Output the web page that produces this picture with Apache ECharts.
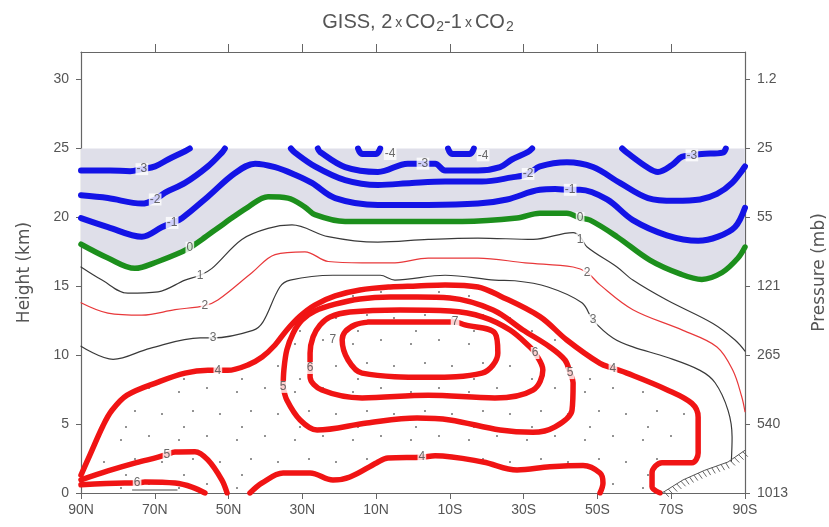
<!DOCTYPE html>
<html><head><meta charset="utf-8">
<script src="https://cdn.jsdelivr.net/npm/echarts@6/dist/echarts.min.js"></script>
<style>html,body{margin:0;padding:0;background:#fff}#c{width:829px;height:527px}</style>
</head><body><div id="c"></div>
<script>
// ---- axis ticks ----
const latTicks = [90,70,50,30,10,-10,-30,-50,-70,-90];
const latTickLabels = ['90N','70N','50N','30N','10N','10S','30S','50S','70S','90S'];
const topTicks = [70,50,30,10,-10,-30,-50,-70];
const heightTicks = [0,5,10,15,20,25,30];
const pressureLabels = ['1013','540','265','121','55','25','1.2'];

// ---- contours: [latitude (N +), height km] ----
const minus4a = [[14.9,25],[13.8,24.6],[10,24.6],[8.9,25]];
const minus4b = [[-9.5,25],[-10.6,24.6],[-15.4,24.6],[-16.5,25]];
const minus3a = [[90,23.4],[82.1,23.4],[76.7,23.35],[73.5,23.5],[69.9,23.7],[66.4,24.2],[61.8,24.8],[60.5,25]];
const minus3b = [[25.8,25],[25.2,24.75],[18.4,23.65],[9.5,23.3],[1.4,23.9],[-2.7,23.9],[-6,23.9],[-8.7,23.4],[-17.6,23.4],[-23.6,23.65],[-26.8,24.2],[-31.2,24.75],[-32.3,25]];
const minus3c = [[-56.7,25],[-58,24.7],[-63.7,23.6],[-66.4,23.3],[-70.2,23.8],[-72.9,24.4],[-75.6,24.5],[-78.3,24.6],[-84,24.7],[-84.8,25]];
const minus2a = [[90,21.6],[82.7,21.4],[73.5,21.0],[69.9,21.3],[67.2,21.8],[61.8,22.5],[55.6,23.7],[51.8,24.7],[51,25]];
const minus2b = [[33.1,25],[32,24.7],[26.6,23.7],[18.4,22.7],[9.5,22.35],[0.3,22.5],[-8.7,22.6],[-18.7,22.6],[-26.8,22.9],[-31.2,23.15],[-34.4,23.7],[-41.7,24.0],[-48.8,23.65],[-56.1,22.5],[-63.7,21.4],[-71,21.2],[-77.8,21.3],[-82.4,21.7],[-86.5,22.5],[-90,23.7]];
const minus1 = [[90,19.95],[82.7,19.3],[73.5,18.6],[68,19.3],[65.3,19.6],[62.6,19.95],[55.6,21.5],[48.3,23.2],[42.8,23.9],[37.4,23.65],[32,23.1],[27.4,22.5],[21.1,21.4],[9.5,20.9],[-4.1,20.9],[-17.6,21.0],[-25.5,21.3],[-34.4,22.0],[-38.5,22.05],[-42.6,22.0],[-45.3,22.0],[-52.6,21.3],[-59.6,19.8],[-68.8,18.7],[-77.3,18.3],[-82.7,18.6],[-87.3,19.3],[-90,20.7]];
const zero = [[90,18.05],[82.7,17.05],[75.4,16.3],[69.1,16.8],[62.6,17.5],[60.5,17.8],[57.2,18.4],[51,19.6],[44.7,20.75],[39.3,21.5],[33.9,21.4],[29.3,20.75],[26.6,20.2],[18.4,19.7],[4.9,19.7],[-13.3,19.7],[-28.2,19.95],[-34.4,20.3],[-41.7,20.3],[-45.3,19.95],[-48,19.8],[-55.3,18.6],[-64.2,16.9],[-72.4,15.9],[-78.3,15.5],[-83.8,16.0],[-88.1,17.05],[-90,17.85]];
const one = [[90,16.4],[84.3,15.45],[77.3,14.5],[69.1,14.6],[61.8,15.45],[57.7,15.8],[54.5,16.3],[46.4,18.4],[39.3,19.2],[32.8,19.45],[23,18.6],[9.5,18.2],[-4.1,18.4],[-17.6,18.5],[-32.6,18.4],[-43.4,18.9],[-45.3,18.6],[-47.2,17.85],[-55.3,16.4],[-59.6,15.45],[-68.8,14.0],[-81.3,12.3],[-87.3,11.1],[-90,10.3]];
const two = [[90,13.8],[82.7,13.05],[73.5,12.9],[64.5,13.3],[56.4,13.6],[52.9,14.0],[43.6,16.0],[37.4,17.3],[29.3,17.5],[23,16.8],[13.8,16.7],[4.9,16.7],[-4.1,17.05],[-17.6,17.05],[-30.4,16.7],[-43.4,16.4],[-47.2,16.0],[-50.7,15.1],[-59.6,13.3],[-73.2,11.8],[-82.4,10.6],[-86.7,8.9],[-89.1,7.0],[-90,5.9]];
const three = [[90,10.65],[81.3,9.7],[71.3,10.5],[57.7,11.25],[54.2,11.25],[43.4,11.8],[40.7,12.4],[36.1,14.95],[33.3,15.45],[21.7,15.8],[8.9,15.8],[4.9,15.45],[-8.7,15.8],[-22.2,15.45],[-27.6,15.4],[-36.6,14.95],[-45.8,13.8],[-48.8,12.55],[-54.2,11.25],[-59.6,10.6],[-68.8,9.85],[-77.8,8.9],[-81.9,8.0],[-85.4,6.0],[-86.5,4.05],[-86.3,2.3]];
const fourUpper = [[90,1.3],[87.6,2.75],[84.0,4.9],[81.6,6.0],[77.5,7.1],[69.1,8.05],[61.8,8.7],[55.6,8.9],[52.9,8.9],[50.2,8.9],[44.7,9.3],[40.9,9.87],[37.4,10.74],[34.2,11.83],[30.6,12.84],[26.6,13.64],[21.1,14.3],[14.4,14.73],[6.2,14.95],[-1.1,15.02],[-8.7,15.1],[-17.6,14.95],[-23.6,14.3],[-34.4,12.8],[-41.7,11.1],[-50.7,9.4],[-54.2,9.05],[-58,8.7],[-68.8,7.5],[-75.6,6.5],[-77.3,5.5],[-77.3,2.9],[-75.6,2.2],[-67.5,2.2],[-64.8,1.45],[-64.8,0.45],[-67,0]];
const fourLower = [[44.2,0],[40.9,0.73],[35.2,1.45],[27.9,1.45],[21.7,0.94],[17.1,1.16],[9.8,2.2],[6.8,2.54],[-2.4,2.6],[-6,2.7],[-19,2.25],[-28.2,1.67],[-37.1,1.9],[-46.1,2.0],[-50.7,1.45],[-51.5,0.73],[-50.7,0]];
const fiveGround = [[90,0.95],[82.7,1.6],[75,2.2],[69.1,2.6],[66.7,2.8],[64.5,2.98],[59.1,3.0],[55.6,2.4],[51.8,0.94],[50.4,0]];
const fiveLoop = [[35.2,7.7],[35,8.93],[34.2,10.38],[32.5,11.6],[30.1,12.55],[26.6,13.2],[21.1,13.7],[14.4,14.08],[6.2,14.22],[-1.1,14.22],[-10,14.15],[-21.7,13.28],[-29.8,11.83],[-37.1,10.6],[-41.2,9.65],[-42.6,8.7],[-43.4,8.0],[-43.1,6.0],[-38.5,4.8],[-32.5,4.4],[-23.6,4.57],[-10,5.3],[-1.1,5.44],[12.5,5.08],[26,4.57],[30.6,5.3],[34.2,6.75],[35.2,7.7]];
const sixGround = [[90,0.6],[78.1,0.72],[74.8,0.72],[72.7,0.8],[64.5,0.72],[59.9,0.43],[56.4,0]];
const sixLoop = [[27.9,9.07],[27.9,10.16],[27.1,11.32],[25.2,12.19],[22.5,12.77],[17.1,13.13],[3.5,13.28],[-10,13.2],[-19,12.77],[-26.3,11.83],[-31.7,10.6],[-33.1,10.16],[-35.2,8.93],[-32.5,7.47],[-22.2,6.9],[-4.1,7.1],[13.8,6.9],[24.7,7.47],[27.9,8.42],[27.9,9.07]];
const sevenLoop = [[12.2,12.4],[-11.4,12.4],[-14.1,12.2],[-22.2,11.6],[-23,10.16],[-18.7,8.7],[-4.1,8.4],[13.8,8.7],[17.6,9.65],[19.2,11.1],[18.4,11.7],[15.7,12.2],[12.2,12.4]];
const groundSmudge = [[76,0.22],[64,0.22]];
const terrain = [[-67.5,0],[-73.2,0.95],[-79.1,1.65],[-85.4,2.25],[-90,3.1]];

// contour labels: [lat, height, text]
const contourLabels = [
  [73.5,23.5,'-3'],[69.9,21.3,'-2'],[65.3,19.6,'-1'],[60.5,17.8,'0'],[57.7,15.8,'1'],[56.4,13.6,'2'],
  [54.2,11.25,'3'],[52.9,8.9,'4'],[66.7,2.8,'5'],[74.8,0.72,'6'],
  [6.2,24.6,'-4'],[-2.7,23.9,'-3'],[-19,24.5,'-4'],[-31.2,23.15,'-2'],[-42.6,22.0,'-1'],[-45.3,19.95,'0'],
  [-45.3,18.4,'1'],[-47.2,16.0,'2'],[-48.8,12.55,'3'],[-54.2,9.05,'4'],[-42.6,8.7,'5'],[-33.1,10.16,'6'],
  [-11.4,12.4,'7'],[35.2,7.7,'5'],[27.9,9.07,'6'],[21.7,11.1,'7'],[-2.4,2.6,'4'],[-75.6,24.5,'-3']
];

const styles = {
  blue: {color:'#1414e6', width:6},
  green: {color:'#1c8f1c', width:5.5},
  red: {color:'#f01414', width:5.5},
  thinBlack: {color:'#3a3a3a', width:1.2},
  thinRed: {color:'#e8383a', width:1.2},
  smudge: {color:'#888', width:1.5}
};
const contourList = [
  [minus4a,'blue'],[minus4b,'blue'],[minus3a,'blue'],[minus3b,'blue'],[minus3c,'blue'],
  [minus2a,'blue'],[minus2b,'blue'],[minus1,'blue'],[zero,'green'],
  [one,'thinBlack'],[two,'thinRed'],[three,'thinBlack'],
  [fourUpper,'red'],[fourLower,'red'],[fiveGround,'red'],[fiveLoop,'red'],
  [sixGround,'red'],[sixLoop,'red'],[sevenLoop,'red'],[groundSmudge,'smudge']
];

// polygons for shading
const shadeTop = [[90,25],[-90,25]];
const shadePoly = shadeTop.concat(zero.slice().reverse());
const stipplePoly = fourUpper.concat(fourLower.slice().reverse()).concat([[90,0]]);

const cv = document.createElement('canvas');
cv.width = 58; cv.height = 48;
const cx = cv.getContext('2d');
cx.fillStyle = '#666';
[[5,8],[33,4],[19,27],[46,30],[10,43]].forEach(p => { cx.beginPath(); cx.arc(p[0], p[1], 0.95, 0, Math.PI*2); cx.fill(); });

const FONT = "'Liberation Sans', Arial, sans-serif";
const TXT = '#555';

function polySeries(points, style, z) {
  return {type:'custom', silent:true, z:z, data:[[0,0]], clip:true,
    renderItem:(params, api) => ({type:'polygon', shape:{points: points.map(p => api.coord(p))}, style:style})};
}

const series = [
  polySeries(shadePoly, {fill:'#dfdfe9', stroke:null}, 1),
  polySeries(stipplePoly, {fill:{image:cv, repeat:'repeat'}, stroke:null}, 1),
];
contourList.forEach(([d, k]) => {
  series.push({type:'line', data:d, showSymbol:false, symbol:'none', smooth:0.35, silent:true, z:3,
    lineStyle:{color:styles[k].color, width:styles[k].width, cap:'round', join:'round'}});
});
series.push({type:'custom', silent:true, z:4, data:[[0,0]], clip:false,
  renderItem:(params, api) => {
    const pts = terrain.map(p => api.coord(p));
    const children = [{type:'polyline', shape:{points:pts}, style:{stroke:'#555', lineWidth:1, fill:null}}];
    for (let i = 0; i < pts.length - 1; i++) {
      const a = pts[i], b = pts[i+1];
      const dx = b[0]-a[0], dy = b[1]-a[1], L = Math.hypot(dx, dy);
      const nx = -dy/L, ny = dx/L;
      const n = Math.floor(L/4.5);
      for (let j = 0; j < n; j++) {
        const t = (j + 0.5)/n;
        const x = a[0] + dx*t, y = a[1] + dy*t;
        children.push({type:'line', shape:{x1:x, y1:y, x2:x + nx*6 + 1.5, y2:y + ny*6}, style:{stroke:'#555', lineWidth:0.9}});
      }
    }
    return {type:'group', children};
  }});
series.push({type:'scatter', data:contourLabels, symbolSize:1, silent:true, z:6,
  itemStyle:{color:'transparent'},
  label:{show:true, position:'inside', formatter:p => p.data[2], color:'#444', fontSize:12, fontFamily:FONT,
    backgroundColor:'#fff', padding:[0,1,0,1]}});

const chart = echarts.init(document.getElementById('c'), null, {renderer:'canvas'});
chart.setOption({
  animation:false,
  backgroundColor:'#fff',
  title:{
    text:'{a|GISS, 2}{x|x}{a|CO}{s|2}{a|-1}{x|x}{a|CO}{s|2}',
    left:413, top:4, textAlign:'center',
    textStyle:{fontWeight:'normal', rich:{
      a:{fontSize:20, fontWeight:'normal', fontFamily:FONT, color:TXT, lineHeight:26},
      x:{fontSize:14, fontWeight:'normal', fontFamily:FONT, color:TXT, lineHeight:26, padding:[3,3,0,3]},
      s:{fontSize:14, fontWeight:'normal', fontFamily:FONT, color:TXT, lineHeight:26, padding:[11,0,0,1]}
    }}
  },
  grid:{left:81, right:84, top:52, bottom:34, containLabel:false, outerBoundsMode:'none'},
  xAxis:[
    {type:'value', min:-90, max:90, inverse:true, position:'bottom',
      axisLine:{show:true, onZero:false, lineStyle:{color:'#666', width:1.2}},
      axisTick:{show:true, customValues:latTicks, length:6, inside:false, lineStyle:{color:'#666'}},
      axisLabel:{show:true, customValues:latTicks, margin:10, color:TXT, fontSize:14, fontFamily:FONT,
        formatter:v => latTickLabels[latTicks.indexOf(v)]},
      splitLine:{show:false}},
    {type:'value', min:-90, max:90, inverse:true, position:'top',
      axisLine:{show:true, onZero:false, lineStyle:{color:'#666', width:1.2}},
      axisTick:{show:true, customValues:topTicks, length:8, inside:false, lineStyle:{color:'#666'}},
      axisLabel:{show:true, customValues:topTicks, color:'rgba(0,0,0,0)', formatter:() => ''},
      splitLine:{show:false}}
  ],
  yAxis:[
    {type:'value', min:0, max:32, position:'left',
      name:'Height (km)', nameLocation:'middle', nameGap:48, nameRotate:90,
      nameTextStyle:{color:TXT, fontSize:17, fontFamily:"'DejaVu Sans', sans-serif"},
      axisLine:{show:true, onZero:false, lineStyle:{color:'#666', width:1.2}},
      axisTick:{show:true, customValues:heightTicks, length:5, lineStyle:{color:'#666'}},
      axisLabel:{show:true, customValues:heightTicks, margin:12, color:TXT, fontSize:14, fontFamily:FONT},
      splitLine:{show:false}},
    {type:'value', min:0, max:32, position:'right',
      name:'Pressure (mb)', nameLocation:'middle', nameGap:66, nameRotate:90,
      nameTextStyle:{color:TXT, fontSize:17, fontFamily:"'DejaVu Sans', sans-serif"},
      axisLine:{show:true, onZero:false, lineStyle:{color:'#666', width:1.2}},
      axisTick:{show:true, customValues:heightTicks, length:5, lineStyle:{color:'#666'}},
      axisLabel:{show:true, customValues:heightTicks, margin:12, color:TXT, fontSize:14, fontFamily:FONT,
        formatter:v => pressureLabels[heightTicks.indexOf(v)]},
      splitLine:{show:false}}
  ],
  series:series
});
</script></body></html>
